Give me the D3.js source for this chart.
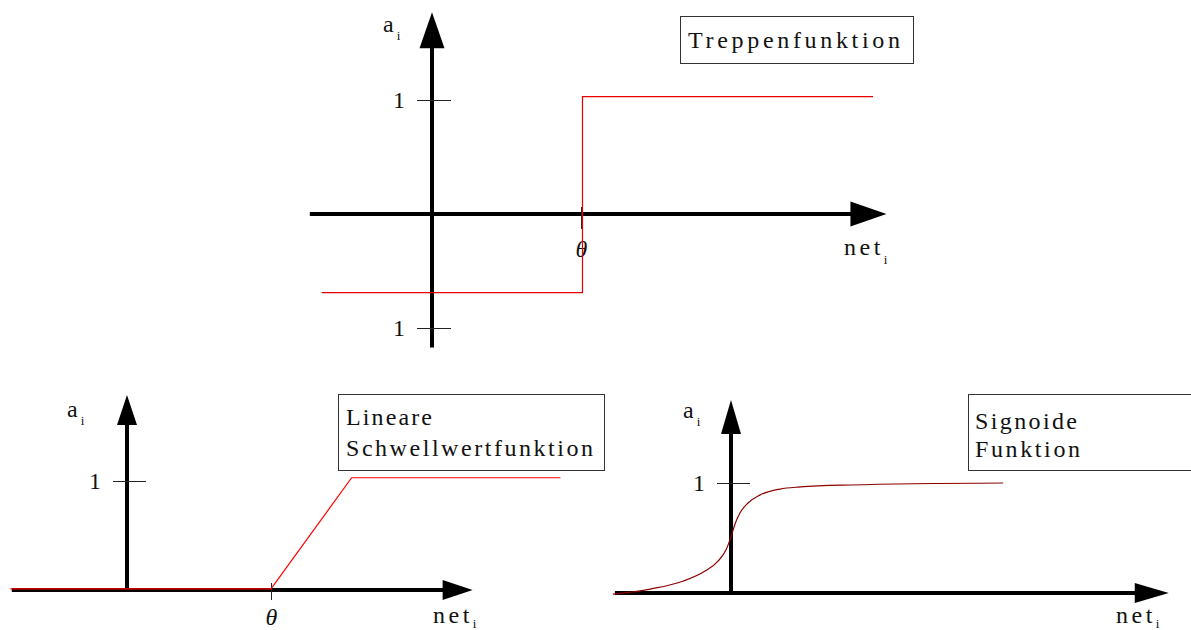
<!DOCTYPE html>
<html>
<head>
<meta charset="utf-8">
<script src="https://cdn.jsdelivr.net/npm/d3@7"></script>
<style>
  body { margin: 0; background: #fff; }
  svg text { font-family: "Liberation Serif", "Times New Roman", serif; fill: #111; }
</style>
</head>
<body>
<div id="chart"></div>
<script>
// Treppenfunktion (step), values in units of theta / activation
var stepNet = [-0.74, 1.01, 1.01, 2.96];
var stepAct = [-0.69, -0.69, 1.03, 1.03];

// Lineare Schwellwertfunktion
var linNet = [-0.81, 1, 1.56, 3.01];
var linAct = [0.01, 0.01, 1.03, 1.03];

// Sigmoide
var sigNet = [-0.82, -0.56, -0.33, -0.18, -0.09, -0.035, 0, 0.028, 0.062, 0.118, 0.20, 0.34, 0.48, 0.83, 1.89];
var sigAct = [-0.01, 0.036, 0.109, 0.20, 0.29, 0.39, 0.51, 0.627, 0.727, 0.818, 0.89, 0.945, 0.964, 0.982, 1.0];

// tick values / labels
var topTicks = [1, -1];
var topTickLabels = ["1", "1"];
var bottomTicks = [1];
var bottomTickLabels = ["1"];
var thetaTick = [1];

var titles = [["Treppenfunktion"], ["Lineare", "Schwellwertfunktion"], ["Signoide", "Funktion"]];

var width = 1191, height = 630;

var svg = d3.select("#chart").append("svg")
    .attr("width", width)
    .attr("height", height)
    .style("display", "block");

svg.append("rect").attr("width", width).attr("height", height).attr("fill", "#fff");

var panels = [
    {
        xr: [432, 581], yr: [214, 100],
        xExt: [-0.82, 3.05], yExt: [-1.17, 1.77],
        head: [36, 12.5],
        ticks: topTicks, tickLabels: topTickLabels, tickAt: 451, tickLen: 34,
        theta: true, thetaTop: 207, thetaLen: 22, thetaPad: 11,
        net: stepNet, act: stepAct, color: "#e80000", curve: d3.curveLinear,
        box: [680, 16, 233, 47], title: titles[0], titleX: 688, titleY: [48], titleW: [212],
        aLabel: [383, 32], netLabel: [844, 255], subDy: 9
    },
    {
        xr: [127, 271], yr: [590, 481],
        xExt: [-0.80, 2.40], yExt: [0, 1.79],
        head: [30, 10],
        ticks: bottomTicks, tickLabels: bottomTickLabels, tickAt: 146, tickLen: 33,
        theta: true, thetaTop: 583, thetaLen: 17, thetaPad: 8,
        net: linNet, act: linAct, color: "#ff0000", curve: d3.curveLinear,
        box: [338, 394, 266, 76], title: titles[1], titleX: 346, titleY: [425, 456], titleW: [86, 247],
        aLabel: [67, 417], netLabel: [433, 623], subDy: 5
    },
    {
        xr: [731, 875], yr: [593, 483],
        xExt: [-0.806, 3.04], yExt: [0, 1.755],
        head: [34, 10],
        ticks: bottomTicks, tickLabels: bottomTickLabels, tickAt: 750, tickLen: 33,
        theta: false,
        net: sigNet, act: sigAct, color: "#8b0000", curve: d3.curveMonotoneX,
        box: [968, 394, 240, 76], title: titles[2], titleX: 975, titleY: [429, 457], titleW: [102, 105],
        aLabel: [683, 418], netLabel: [1116, 623], subDy: 5
    }
];

panels.forEach(function(p) {
    var x = d3.scaleLinear().domain([0, 1]).range(p.xr);
    var y = d3.scaleLinear().domain([0, 1]).range(p.yr);
    var g = svg.append("g");

    var len = p.head[0], hw = p.head[1];
    var xTip = x(p.xExt[1]), yTip = y(p.yExt[1]);

    // x axis with arrow
    g.append("line")
        .attr("x1", x(p.xExt[0])).attr("x2", xTip - len + 2)
        .attr("y1", y(0)).attr("y2", y(0))
        .attr("stroke", "#000").attr("stroke-width", 4);
    g.append("path")
        .attr("d", "M" + xTip + "," + y(0) + "L" + (xTip - len) + "," + (y(0) - hw) + "L" + (xTip - len) + "," + (y(0) + hw) + "Z")
        .attr("fill", "#000");

    // y axis with arrow
    g.append("line")
        .attr("x1", x(0)).attr("x2", x(0))
        .attr("y1", y(p.yExt[0]) + (p.yExt[0] === 0 ? 2 : 0)).attr("y2", yTip + len - 2)
        .attr("stroke", "#000").attr("stroke-width", 4);
    g.append("path")
        .attr("d", "M" + x(0) + "," + yTip + "L" + (x(0) - hw) + "," + (yTip + len) + "L" + (x(0) + hw) + "," + (yTip + len) + "Z")
        .attr("fill", "#000");

    // y ticks through d3 axis
    var yAxis = d3.axisLeft(y)
        .tickValues(p.ticks)
        .tickFormat(function(d, i) { return p.tickLabels[i]; })
        .tickSize(p.tickLen)
        .tickPadding(12);
    g.append("g")
        .attr("transform", "translate(" + p.tickAt + ",0)")
        .call(yAxis)
        .call(function(a) { a.select(".domain").remove(); })
        .call(function(a) {
            a.selectAll("line").attr("stroke", "#222").attr("stroke-width", 1);
            a.selectAll("text").attr("font-size", 24).attr("font-family", "Liberation Serif").attr("fill", "#111");
        });

    // theta tick
    if (p.theta) {
        var xAxis = d3.axisBottom(x)
            .tickValues(thetaTick)
            .tickFormat(function() { return "\u03b8"; })
            .tickSize(p.thetaLen)
            .tickPadding(p.thetaPad);
        g.append("g")
            .attr("transform", "translate(0," + p.thetaTop + ")")
            .call(xAxis)
            .call(function(a) { a.select(".domain").remove(); })
            .call(function(a) {
                a.selectAll("line").attr("stroke", "#222").attr("stroke-width", 1);
                a.selectAll("text").attr("font-size", 24).attr("font-style", "italic")
                    .attr("font-family", "Liberation Serif").attr("fill", "#111");
            });
    }

    // function curve
    var pts = p.net.map(function(d, i) { return [d, p.act[i]]; });
    var line = d3.line()
        .x(function(d) { return x(d[0]); })
        .y(function(d) { return y(d[1]); })
        .curve(p.curve);
    g.append("path")
        .datum(pts)
        .attr("d", line)
        .attr("fill", "none")
        .attr("stroke", p.color)
        .attr("stroke-width", 1.2);

    // title box
    g.append("rect")
        .attr("x", p.box[0] + 0.5).attr("y", p.box[1] + 0.5)
        .attr("width", p.box[2]).attr("height", p.box[3])
        .attr("fill", "#fff").attr("stroke", "#333").attr("stroke-width", 1);
    p.title.forEach(function(t, i) {
        g.append("text")
            .attr("x", p.titleX).attr("y", p.titleY[i])
            .attr("font-size", 24)
            .attr("textLength", p.titleW[i])
            .attr("lengthAdjust", "spacing")
            .text(t);
    });

    // a_i
    var at = g.append("text").attr("x", p.aLabel[0]).attr("y", p.aLabel[1]).attr("font-size", 24);
    at.append("tspan").text("a");
    at.append("tspan").attr("dx", 3).attr("dy", 8).attr("font-size", 13).text("i");

    // net_i
    var nt = g.append("text").attr("x", p.netLabel[0]).attr("y", p.netLabel[1])
        .attr("font-size", 24).attr("letter-spacing", 3.5);
    nt.append("tspan").text("net");
    nt.append("tspan").attr("dx", 0).attr("dy", p.subDy).attr("font-size", 13).text("i");
});
</script>
</body>
</html>
